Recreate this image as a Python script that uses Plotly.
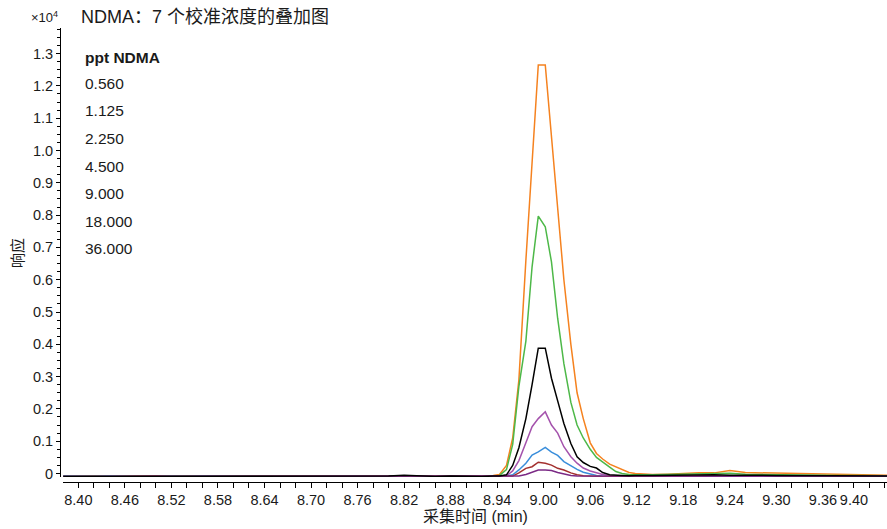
import plotly.graph_objects as go

# ---------------- data ----------------
time_min = [
    8.38, 8.40, 8.42, 8.44, 8.46, 8.48, 8.50, 8.52, 8.54, 8.56, 8.58, 8.60, 8.62, 8.64,
    8.66, 8.68, 8.70, 8.72, 8.74, 8.76, 8.78, 8.80, 8.82, 8.84, 8.86, 8.88, 8.90, 8.92,
    8.935, 8.943, 8.952, 8.960, 8.968, 8.977, 8.985, 8.993, 9.002, 9.010, 9.018, 9.026,
    9.035, 9.043, 9.051, 9.060, 9.068, 9.076, 9.085, 9.093, 9.101, 9.110, 9.118,
    9.14, 9.16, 9.18, 9.20, 9.22, 9.24, 9.26, 9.28, 9.30, 9.32, 9.34, 9.36, 9.38,
    9.40, 9.42, 9.44, 9.46,
]

# response in units of 1e4 counts
resp_36_000 = [
    -0.008, -0.007, -0.008, -0.007, -0.008, -0.008, -0.007, -0.008, -0.007, -0.008, -0.007, -0.008, -0.006, -0.007,
    -0.008, -0.007, -0.008, -0.007, -0.008, -0.007, -0.008, -0.007, -0.006, -0.007, -0.008, -0.007, -0.008, -0.007,
    -0.006, -0.003, 0.025, 0.11, 0.29, 0.66, 0.98, 1.265, 1.265, 1.05, 0.81, 0.60,
    0.40, 0.25, 0.17, 0.095, 0.062, 0.045, 0.029, 0.020, 0.011, 0.003, 0.0,
    -0.003, -0.002, 0.001, 0.002, 0.002, 0.009, 0.003, 0.002, 0.0, 0.0, -0.001, -0.002, -0.004,
    -0.004, -0.005, -0.006, -0.006,
]
resp_18_000 = [
    -0.008, -0.008, -0.007, -0.008, -0.008, -0.007, -0.008, -0.008, -0.007, -0.008, -0.008, -0.007, -0.008, -0.007,
    -0.008, -0.008, -0.007, -0.008, -0.008, -0.007, -0.008, -0.007, -0.006, -0.008, -0.007, -0.008, -0.008, -0.008,
    -0.008, -0.006, 0.012, 0.09, 0.27, 0.41, 0.64, 0.797, 0.764, 0.655, 0.48, 0.34,
    0.22, 0.15, 0.11, 0.075, 0.05, 0.035, 0.02, 0.006, 0.0, -0.003, -0.004,
    -0.004, -0.003, -0.002, -0.001, -0.002, 0.001, -0.002, -0.003, -0.004, -0.004, -0.005, -0.005, -0.006,
    -0.006, -0.007, -0.007, -0.007,
]
resp_9_000 = [
    -0.009, -0.009, -0.008, -0.009, -0.009, -0.008, -0.009, -0.009, -0.008, -0.009, -0.009, -0.008, -0.008, -0.009,
    -0.009, -0.008, -0.009, -0.009, -0.008, -0.009, -0.008, -0.008, -0.005, -0.008, -0.009, -0.008, -0.009, -0.009,
    -0.008, -0.008, -0.004, 0.025, 0.08, 0.17, 0.275, 0.388, 0.388, 0.295, 0.225, 0.155,
    0.093, 0.052, 0.034, 0.022, 0.017, 0.003, -0.004, -0.006, -0.006, -0.007, -0.006,
    -0.006, -0.005, -0.004, -0.003, -0.004, -0.005, -0.004, -0.005, -0.006, -0.006, -0.006, -0.007, -0.007,
    -0.007, -0.007, -0.008, -0.008,
]
resp_4_500 = [
    -0.009, -0.008, -0.009, -0.009, -0.008, -0.009, -0.009, -0.008, -0.009, -0.009, -0.008, -0.009, -0.009, -0.008,
    -0.009, -0.009, -0.008, -0.009, -0.009, -0.008, -0.009, -0.009, -0.007, -0.009, -0.008, -0.009, -0.009, -0.008,
    -0.008, -0.008, -0.007, 0.008, 0.04, 0.095, 0.145, 0.17, 0.191, 0.15, 0.125, 0.083,
    0.052, 0.032, 0.017, 0.008, 0.002, -0.003, -0.006, -0.008, -0.008, -0.008, -0.008,
    -0.008, -0.008, -0.007, -0.008, -0.008, -0.007, -0.008, -0.008, -0.008, -0.009, -0.008, -0.008, -0.009,
    -0.008, -0.009, -0.009, -0.009,
]
resp_2_250 = [
    -0.008, -0.009, -0.009, -0.008, -0.009, -0.009, -0.008, -0.009, -0.009, -0.008, -0.009, -0.008, -0.009, -0.009,
    -0.008, -0.009, -0.009, -0.008, -0.009, -0.008, -0.009, -0.008, -0.007, -0.009, -0.009, -0.008, -0.009, -0.009,
    -0.008, -0.008, -0.008, -0.004, 0.011, 0.032, 0.057, 0.067, 0.081, 0.066, 0.056, 0.037,
    0.023, 0.013, 0.004, -0.002, -0.006, -0.008, -0.008, -0.008, -0.008, -0.009, -0.008,
    -0.008, -0.009, -0.008, -0.008, -0.009, -0.008, -0.008, -0.009, -0.008, -0.009, -0.009, -0.008, -0.009,
    -0.009, -0.009, -0.009, -0.009,
]
resp_1_125 = [
    -0.009, -0.008, -0.009, -0.009, -0.008, -0.009, -0.008, -0.009, -0.009, -0.008, -0.009, -0.009, -0.008, -0.009,
    -0.008, -0.009, -0.009, -0.008, -0.009, -0.009, -0.008, -0.009, -0.007, -0.008, -0.009, -0.009, -0.008, -0.009,
    -0.008, -0.008, -0.008, -0.008, 0.002, 0.016, 0.021, 0.035, 0.032, 0.026, 0.016, 0.011,
    0.002, -0.004, -0.007, -0.008, -0.008, -0.009, -0.008, -0.009, -0.008, -0.009, -0.008,
    -0.008, -0.009, -0.008, -0.009, -0.008, -0.008, -0.009, -0.008, -0.009, -0.008, -0.009, -0.009, -0.008,
    -0.009, -0.009, -0.009, -0.009,
]
resp_0_560 = [
    -0.009, -0.009, -0.008, -0.009, -0.009, -0.008, -0.009, -0.009, -0.009, -0.008, -0.009, -0.009, -0.008, -0.009,
    -0.009, -0.008, -0.009, -0.009, -0.009, -0.008, -0.009, -0.008, -0.007, -0.009, -0.008, -0.009, -0.009, -0.008,
    -0.009, -0.008, -0.008, -0.008, -0.008, -0.003, 0.005, 0.011, 0.011, 0.009, 0.003, -0.002,
    -0.006, -0.008, -0.008, -0.009, -0.008, -0.009, -0.009, -0.008, -0.009, -0.009, -0.008,
    -0.009, -0.008, -0.009, -0.009, -0.008, -0.009, -0.009, -0.008, -0.009, -0.009, -0.009, -0.008, -0.009,
    -0.009, -0.009, -0.009, -0.009,
]

legend_title = "ppt NDMA"
conc_labels = ["0.560", "1.125", "2.250", "4.500", "9.000", "18.000", "36.000"]

x_tick_vals = [8.40, 8.46, 8.52, 8.58, 8.64, 8.70, 8.76, 8.82, 8.88, 8.94, 9.00, 9.06, 9.12, 9.18, 9.24, 9.30, 9.36, 9.40]
x_tick_text = ["8.40", "8.46", "8.52", "8.58", "8.64", "8.70", "8.76", "8.82", "8.88", "8.94", "9.00", "9.06", "9.12", "9.18", "9.24", "9.30", "9.36", "9.40"]
y_tick_vals = [0, 0.1, 0.2, 0.3, 0.4, 0.5, 0.6, 0.7, 0.8, 0.9, 1.0, 1.1, 1.2, 1.3]
y_tick_text = ["0", "0.1", "0.2", "0.3", "0.4", "0.5", "0.6", "0.7", "0.8", "0.9", "1.0", "1.1", "1.2", "1.3"]

title_text = "NDMA：7 个校准浓度的叠加图"
x_title = "采集时间 (min)"
y_title = "响应"
scale_text = "×10<sup>4</sup>"

# ---------------- styling ----------------
W, H = 887, 529
ML, MR, MT, MB = 60, 0, 28, 47
PW, PH = W - ML - MR, H - MT - MB
FONT = "'Liberation Sans', Arial, 'Noto Sans CJK SC', sans-serif"
INK = "#1a1a1a"
TICK_SIZE = 14.5


def px(xp):
    return (xp - ML) / PW


def py(yp):
    return (H - MB - yp) / PH


series = [
    ("36.000", resp_36_000, "#F5821F"),
    ("18.000", resp_18_000, "#4DB848"),
    ("4.500", resp_4_500, "#A452AC"),
    ("2.250", resp_2_250, "#3A8EDB"),
    ("1.125", resp_1_125, "#A3302E"),
    ("0.560", resp_0_560, "#7B2A85"),
    ("9.000", resp_9_000, "#000000"),
]

fig = go.Figure()
for name, vals, col in series:
    fig.add_trace(go.Scatter(
        x=time_min, y=vals, mode="lines", name=name,
        line=dict(color=col, width=1.5), showlegend=False,
    ))

fig.update_layout(
    width=W, height=H,
    margin=dict(l=ML, r=MR, t=MT, b=MB),
    paper_bgcolor="white", plot_bgcolor="white",
    font=dict(family=FONT, size=TICK_SIZE, color=INK),
    showlegend=False,
    xaxis=dict(
        domain=[px(63.3), 1], range=[8.3806, 9.4426],
        anchor="free", position=0,
        tickmode="array", tickvals=x_tick_vals, ticktext=x_tick_text, tickangle=0,
        ticks="outside", ticklen=5, tickwidth=1, tickcolor="black",
        showline=True, linecolor="black", linewidth=1,
        showgrid=False, zeroline=False,
        tickfont=dict(family=FONT, size=TICK_SIZE, color=INK),
        minor=dict(tick0=8.38, dtick=0.02, ticks="outside", ticklen=5, tickcolor="black", showgrid=False),
    ),
    yaxis=dict(
        domain=[py(477), 1], range=[-0.0108, 1.3793],
        anchor="free", position=0,
        tickmode="array", tickvals=y_tick_vals, ticktext=y_tick_text,
        ticks="outside", ticklen=4, tickwidth=1, tickcolor="black",
        showline=True, linecolor="black", linewidth=1,
        showgrid=False, zeroline=False,
        tickfont=dict(family=FONT, size=TICK_SIZE, color=INK),
        minor=dict(tick0=0, dtick=0.025, ticks="outside", ticklen=3, tickcolor="black", showgrid=False),
    ),
)

ann = [
    dict(text=title_text, x=px(79), y=py(17), xanchor="left", font=dict(size=18)),
    dict(text=scale_text, x=px(60), y=py(17), xanchor="right", font=dict(size=13)),
    dict(text=y_title, x=px(18), y=py(253), textangle=-90, font=dict(size=15)),
    dict(text=x_title, x=px(475), y=py(516), font=dict(size=16)),
    dict(text="<b>" + legend_title + "</b>", x=px(83), y=py(57), xanchor="left", font=dict(size=15.5)),
]
for i, lab in enumerate(conc_labels):
    ann.append(dict(text=lab, x=px(83), y=py(83.5 + i * 27.5), xanchor="left", font=dict(size=15.5)))

for a in ann:
    a.setdefault("xanchor", "center")
    a.update(xref="paper", yref="paper", yanchor="middle", showarrow=False)
    a["font"] = dict(family=FONT, color=INK, **a["font"])
fig.update_layout(annotations=ann)

fig.write_html(
    "out.html",
    config={"displayModeBar": False},
    post_script="document.body.style.margin='0';",
)
